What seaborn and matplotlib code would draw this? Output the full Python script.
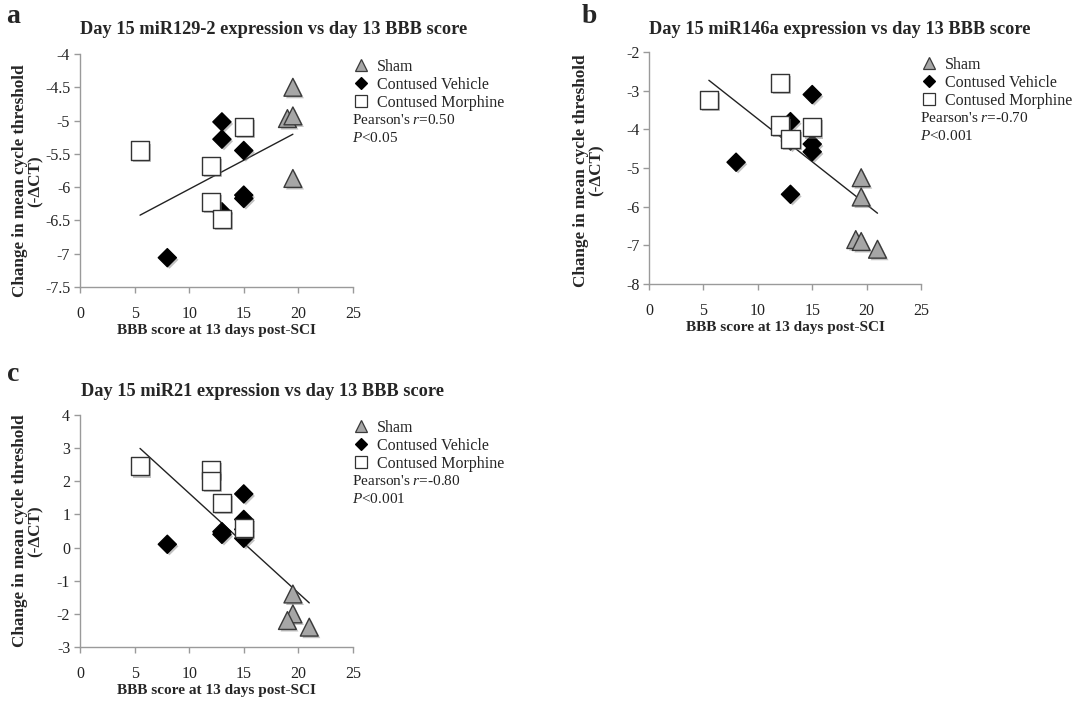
import numpy as np
import pandas as pd
import matplotlib
matplotlib.use("Agg")
import matplotlib.pyplot as plt
import matplotlib.patheffects as pe
from matplotlib.lines import Line2D
import seaborn as sns

sns.set_style("white")
plt.rcParams["font.family"] = ["Liberation Serif", "DejaVu Serif"]
plt.rcParams["mathtext.fontset"] = "custom"
plt.rcParams["mathtext.rm"] = "Liberation Serif"
plt.rcParams["mathtext.it"] = "Liberation Serif:italic"

groups = ["Sham", "Contused Vehicle", "Contused Morphine"]

# Panel a: miR129-2
a_sham_x = [19.5, 19.0, 19.5, 19.5]
a_sham_y = [-4.50, -4.97, -4.93, -5.87]
a_veh_x = [13, 13, 15, 15, 15, 13, 8]
a_veh_y = [-5.02, -5.28, -5.45, -6.12, -6.17, -6.37, -7.06]
a_mor_x = [5.5, 12, 15, 12, 13]
a_mor_y = [-5.45, -5.68, -5.10, -6.22, -6.48]

# Panel b: miR146a
b_sham_x = [19.5, 19.5, 19.0, 19.5, 21.0]
b_sham_y = [-5.25, -5.75, -6.85, -6.90, -7.10]
b_veh_x = [15, 13, 13, 15, 15, 8, 13]
b_veh_y = [-3.10, -3.80, -4.30, -4.38, -4.58, -4.85, -5.68]
b_mor_x = [5.5, 12, 12, 13, 15]
b_mor_y = [-3.25, -2.80, -3.90, -4.25, -3.95]

# Panel c: miR21
c_sham_x = [19.5, 19.5, 19.0, 21.0]
c_sham_y = [-1.40, -2.00, -2.20, -2.40]
c_veh_x = [15, 15, 15, 13, 13, 8, 15]
c_veh_y = [1.62, 0.85, 0.28, 0.48, 0.40, 0.10, 0.55]
c_mor_x = [5.5, 12, 12, 13, 15]
c_mor_y = [2.45, 2.35, 2.00, 1.35, 0.60]

titles = ["Day 15 miR129-2 expression vs day 13 BBB score",
          "Day 15 miR146a expression vs day 13 BBB score",
          "Day 15 miR21 expression vs day 13 BBB score"]
letters = ["a", "b", "c"]
stats_r = ["0.50", "-0.70", "-0.80"]
stats_p = ["<0.05", "<0.001", "<0.001"]
y_limits = [(-7.5, -4.0), (-8.0, -2.0), (-3.0, 4.0)]
y_steps = [0.5, 1.0, 1.0]
x_ticks = [0, 5, 10, 15, 20, 25]


def make_frame(sx, sy, vx, vy, mx, my):
    return pd.DataFrame({
        "bbb": sx + vx + mx,
        "dct": sy + vy + my,
        "group": [groups[0]] * len(sx) + [groups[1]] * len(vx) + [groups[2]] * len(mx),
    })


frames = [make_frame(a_sham_x, a_sham_y, a_veh_x, a_veh_y, a_mor_x, a_mor_y),
          make_frame(b_sham_x, b_sham_y, b_veh_x, b_veh_y, b_mor_x, b_mor_y),
          make_frame(c_sham_x, c_sham_y, c_veh_x, c_veh_y, c_mor_x, c_mor_y)]

styles = {
    "Sham": dict(marker="^", color="#a6a6a6", edgecolor="#3a3a3a", s=165, lw=1.0),
    "Contused Vehicle": dict(marker="D", color="#000000", edgecolor="#000000", s=85, lw=1.0),
    "Contused Morphine": dict(marker="s", color="#ffffff", edgecolor="#333333", s=170, lw=1.0),
}

fig = plt.figure(figsize=(10.91, 7.02), dpi=100)
positions = [[0.0733, 0.5912, 0.2502, 0.3319],
             [0.5949, 0.5954, 0.2493, 0.3305],
             [0.0733, 0.0783, 0.2502, 0.3305]]
title_x = [0.251, 0.770, 0.241]
title_y = [0.958, 0.958, 0.443]
letter_pos = [(0.006, 0.977), (0.533, 0.977), (0.006, 0.467)]
ylabel_coords = [(-0.132, 0.455), (-0.162, 0.49), (-0.132, 0.5)]

shadow = [pe.SimplePatchShadow(offset=(1.5, -1.5), shadow_rgbFace="#777777", alpha=0.45), pe.Normal()]

for i, df in enumerate(frames):
    ax = fig.add_axes(positions[i])
    sns.regplot(data=df, x="bbb", y="dct", scatter=False, ci=None, truncate=True,
                line_kws=dict(color="#222222", lw=1.0), ax=ax)
    for g in groups:
        st = styles[g]
        sub = df[df["group"] == g]
        sns.scatterplot(data=sub, x="bbb", y="dct", marker=st["marker"], color=st["color"],
                        edgecolor=st["edgecolor"], s=st["s"], linewidth=st["lw"], ax=ax,
                        zorder=3, legend=False)
    for coll in ax.collections:
        coll.set_path_effects(shadow)

    ax.set_xlim(0, 25)
    ax.set_ylim(*y_limits[i])
    ax.set_xticks(x_ticks)
    lo, hi = y_limits[i]
    yt = np.arange(lo, hi + 1e-9, y_steps[i])
    ax.set_yticks(yt)
    ax.set_yticklabels([("%g" % v) for v in yt])
    for side in ["top", "right"]:
        ax.spines[side].set_visible(False)
    for side in ["left", "bottom"]:
        ax.spines[side].set_color("#9a9a9a")
        ax.spines[side].set_linewidth(1.0)
    ax.tick_params(axis="both", direction="out", length=4, width=1.0, color="#9a9a9a",
                   labelsize=11.5, labelcolor="#222222", left=True, bottom=True, pad=3)
    ax.tick_params(axis="x", pad=10)
    ax.set_xlabel("BBB score at 13 days post-SCI", fontsize=11, fontweight="bold", labelpad=1)
    ax.set_ylabel("Change in mean cycle threshold\n(-ΔCT)", fontsize=12.3, fontweight="bold",
                  linespacing=1.0)
    ax.yaxis.set_label_coords(*ylabel_coords[i])

    handles = [Line2D([], [], linestyle="none", marker=styles[g]["marker"],
                      markerfacecolor=styles[g]["color"], markeredgecolor=styles[g]["edgecolor"],
                      markersize=8 if g != "Contused Vehicle" else 6.5, markeredgewidth=0.9)
               for g in groups]
    ax.legend(handles, groups, loc="upper left", bbox_to_anchor=(0.983, 1.0), frameon=False,
              fontsize=11.5, handlelength=1.0, handletextpad=0.5, labelspacing=0.12,
              borderaxespad=0.0, borderpad=0.3)
    ax.text(0.995, 0.715, "Pearson's $r$=" + stats_r[i], transform=ax.transAxes,
            fontsize=11, ha="left", va="center", color="#222222")
    ax.text(0.995, 0.64, "$P$" + stats_p[i], transform=ax.transAxes,
            fontsize=11, ha="left", va="center", color="#222222")

    fig.text(title_x[i], title_y[i], titles[i], fontsize=13.2, fontweight="bold",
             ha="center", va="center")
    fig.text(letter_pos[i][0], letter_pos[i][1], letters[i], fontsize=20, fontweight="bold",
             ha="left", va="center")

fig.savefig("out.png", dpi=100)
